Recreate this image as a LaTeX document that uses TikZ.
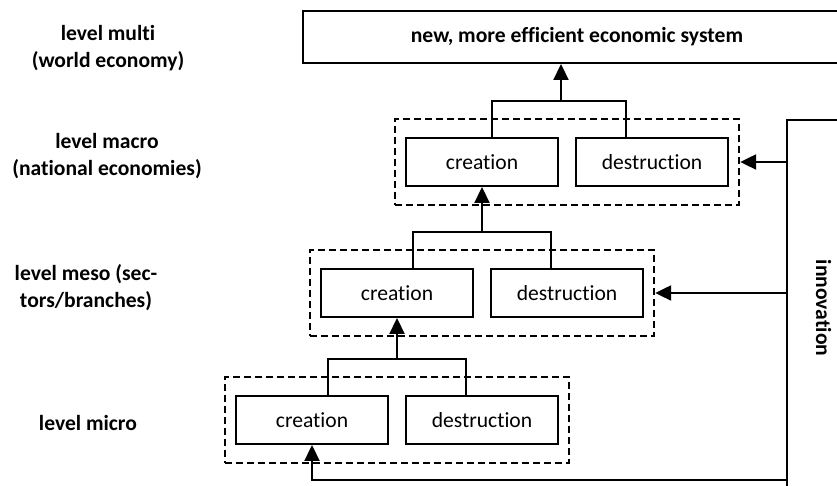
\documentclass[tikz,border=0pt]{standalone}
\usepackage{fontspec}
\setmainfont{Carlito}[Ligatures=NoCommon]
\usepackage{tikz}
\usetikzlibrary{arrows.meta, fit, calc}
\tikzstyle{boxnode}=[
    draw,           % solid black border
    rectangle,      % the shape of the node is a rectangle
    line width=1pt,
    minimum width=76pt,
    minimum height=24pt,
    inner sep=0pt]
\tikzstyle{groupnode}=[
    draw,           % dashed frame round one level
    rectangle,
    dash pattern=on 3.5pt off 2pt,
    line width=1.2pt,
    inner xsep=5pt,
    inner ysep=9pt]
\tikzstyle{levelnode}=[
    align=center,   % two lines, centered
    font=\bfseries]
\tikzstyle{line}=[line width=1.1pt]
\tikzstyle{arrow}=[line width=1.1pt, -{Triangle[length=8pt,width=7.5pt]}]

\begin{document}
\fontsize{10.8}{13.5}\selectfont
\begin{tikzpicture}[x=0.5pt, y=0.5pt, node distance=85pt]
        \useasboundingbox (0,0) rectangle (837,486);

        % Draw the level labels.
        \node[levelnode] (multi) at (108,438) {level multi\\(world economy)};
        \node[levelnode] (macro) at (107,330) {level macro\\(national economies)};
        \node[levelnode] (meso) at (86,198) {level meso (sec-\\tors/branches)};
        \node[levelnode] (micro) at (88,63) {level micro};

        % Draw the boxes.
        \node[boxnode, minimum width=274pt, minimum height=26pt, font=\bfseries] (system) at (577,449) {new, more efficient economic system};
        \node[boxnode, line width=1.4pt, minimum width=36.5pt, minimum height=188pt] (inno) at (823.5,178) {\rotatebox{-90}{\bfseries innovation}};

        \node[boxnode] (macroC) at (482,324) {creation};
        \node[boxnode, right of=macroC] (macroD) {destruction};
        \node[groupnode, fit=(macroC)(macroD)] (macroG) {};

        \node[boxnode] (mesoC) at (397,193) {creation};
        \node[boxnode, right of=mesoC] (mesoD) {destruction};
        \node[groupnode, fit=(mesoC)(mesoD)] (mesoG) {};

        \node[boxnode] (microC) at (312,66) {creation};
        \node[boxnode, right of=microC] (microD) {destruction};
        \node[groupnode, fit=(microC)(microD)] (microG) {};

        % Join creation and destruction of each level
        \coordinate (macroB) at ($(macroC.north)!0.5!(macroD.north)+(-6,36)$);
        \coordinate (mesoB) at ($(mesoC.north)!0.5!(mesoD.north)+(0,36)$);
        \coordinate (microB) at ($(microC.north)!0.5!(microD.north)+(0,36)$);
        \draw[line] ([xshift=5pt]macroC.north) |- (macroB) -| ([xshift=-13pt]macroD.north);
        \draw[line] ([xshift=8pt]mesoC.north) |- (mesoB) -| ([xshift=-8pt]mesoD.north);
        \draw[line] ([xshift=8pt]microC.north) |- (microB) -| ([xshift=-8pt]microD.north);

        % Connect levels with arrows
        \draw[arrow] (macroB) -- (macroB |- system.south);
        \draw[arrow] (mesoB) -- (mesoB |- macroC.south);
        \draw[arrow] (microB) -- (microB |- mesoC.south);

        % Innovation feeds every level
        \coordinate (feed) at (0,6);
        \draw[arrow] (inno.west |- macroG.east) -- (macroG.east);
        \draw[arrow] (inno.west |- mesoG.east) -- (mesoG.east);
        \draw[arrow] (inno.west |- feed) -| (microC.south);
\end{tikzpicture}
\end{document}
